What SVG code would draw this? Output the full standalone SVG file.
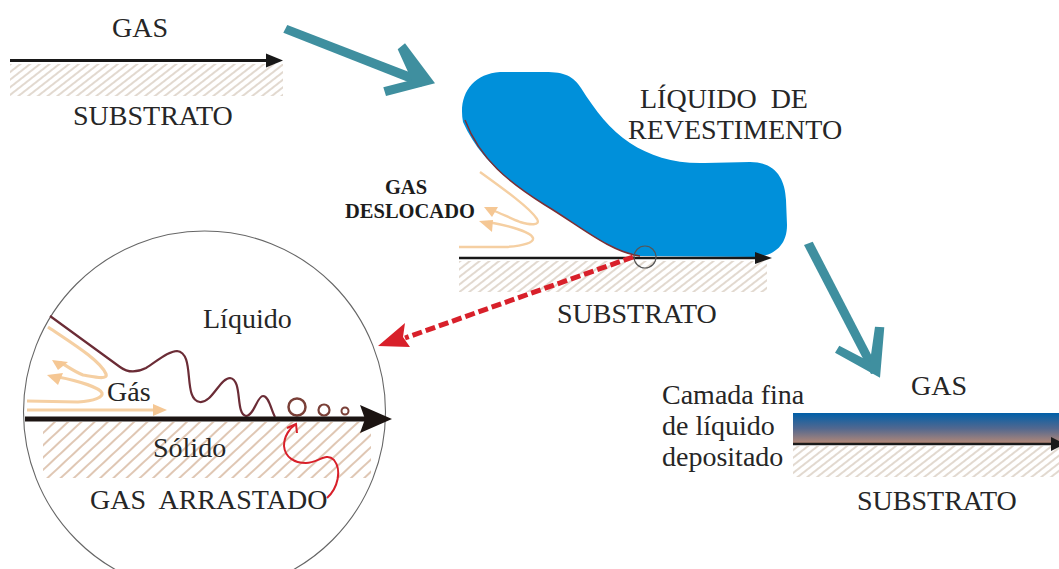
<svg xmlns="http://www.w3.org/2000/svg" width="1059" height="569" viewBox="0 0 1059 569">
<style>
text{font-family:"Liberation Serif","Times New Roman",serif;fill:#262626;white-space:pre}
.t{font-size:28px}
.b{font-size:20.500px;font-weight:bold;text-anchor:middle;fill:#1c1c1c}
.gas{fill:none;stroke:#f5cfa2;stroke-width:2.400}
.gasT{fill:none;stroke:#f5cfa2;stroke-width:3.200}
.tip{fill:#f5c794}
.teal{fill:#3f8f9f}
.wave{fill:none;stroke:#6b2c36;stroke-width:2.200}
.bub{fill:none;stroke:#7a4038}
</style>
<defs>
<pattern id="hatch" width="6" height="6" patternUnits="userSpaceOnUse" patternTransform="rotate(52)">
<rect width="6" height="6" fill="#fff"/>
<line x1="3" y1="0" x2="3" y2="6" stroke="#cfc0b0" stroke-width="1.200"/>
</pattern>
<pattern id="hatchBig" width="9" height="9" patternUnits="userSpaceOnUse" patternTransform="rotate(47)">
<rect width="9" height="9" fill="#fff"/>
<line x1="4" y1="0" x2="4" y2="9" stroke="#cfa98c" stroke-width="1.300"/>
</pattern>
<linearGradient id="film" x1="0" y1="0" x2="0" y2="1">
<stop offset="0" stop-color="#005fa8"/>
<stop offset="0.5" stop-color="#52688f"/>
<stop offset="1" stop-color="#b98a76"/>
</linearGradient>
</defs>
<rect width="1059" height="569" fill="#fff"/>

<g id="substrate-top">
<rect x="10" y="64" width="273" height="32" fill="url(#hatch)"/>
<line x1="10" y1="60.500" x2="270" y2="60.500" stroke="#181818" stroke-width="3"/>
<polygon points="266,53.500 283,60.500 266,67.500" fill="#181818"/>
<text class="t" x="112" y="37">GAS</text>
<text class="t" x="73" y="125">SUBSTRATO</text>
</g>

<g id="liquid-coating">
<rect x="459" y="261" width="308" height="31" fill="url(#hatch)"/>
<path d="M463 122C458 95 472 74 500 72L545 72C565 72 573 76 581 88C595 110 610 130 630 143C650 156 675 164 705 163L750 162C775 162 785 178 786 200L787 225C787 245 775 255 757 257L640 256C610 252 580 226 545 205C510 183 480 160 463 122Z" fill="#0090da"/>
<path d="M465 120C480 160 510 183 545 205C580 226 610 252 640 256" fill="none" stroke="#7b3035" stroke-width="1.500"/>
<line x1="459" y1="258" x2="760" y2="258" stroke="#181818" stroke-width="2.500"/>
<polygon points="755,252 772,258 755,264" fill="#181818"/>
<circle cx="645" cy="257" r="11" fill="none" stroke="#555" stroke-width="1.200"/>
<path class="gas" d="M480 172C505 190 530 208 537 219C541 226 530 225 520 222C510 218 500 213 492 210"/>
<path class="gas" d="M459 247L505 247C525 246 534 242 533 238C531 232 510 226 488 222"/>
<polygon class="tip" points="484,207 498,207 492,217"/>
<polygon class="tip" points="479,221 493,220 492,232"/>
<text class="t" x="640" y="108">LÍQUIDO  DE</text>
<text class="t" x="628" y="139">REVESTIMENTO</text>
<text class="b" x="406" y="194">GAS</text>
<text class="b" x="410" y="218">DESLOCADO</text>
<text class="t" x="557" y="323">SUBSTRATO</text>
</g>

<g id="detail-circle">
<circle cx="204.500" cy="412" r="181" fill="#fff" stroke="#666" stroke-width="1.100"/>
<rect x="43" y="422" width="328" height="56" fill="url(#hatchBig)"/>
<path class="wave" d="M50 316L120 367C128 373 136 373 146 368C156 362 168 351 177 351C196 353 182 400 200 402C212 403 220 378 230 378C243 380 235 414 246 416C254 416 257 396 263 396C269 396 271 410 275 417"/>
<circle class="bub" cx="297" cy="407" r="8.500" stroke-width="2.500"/>
<circle class="bub" cx="324" cy="410" r="5.500" stroke-width="2.200"/>
<circle class="bub" cx="345" cy="411" r="3.500" stroke-width="2"/>
<path class="gasT" d="M48 327C70 342 100 360 106 374C108 380 95 377 83 375C75 372 68 367 60 362"/>
<path class="gasT" d="M27 401L78 402C95 401 103 397 102 393C100 388 80 381 58 377"/>
<line class="gasT" x1="27" y1="410" x2="155" y2="410"/>
<polygon class="tip" points="52,360 68,362 58,370"/>
<polygon class="tip" points="47,375 63,373 58,385"/>
<polygon class="tip" points="167,410 153,404 153,416"/>
<line x1="25" y1="419" x2="365" y2="419" stroke="#1c1412" stroke-width="5"/>
<polygon points="360,405 392,419 360,433 365,419" fill="#1c1412"/>
<text class="t" x="203" y="328">Líquido</text>
<text class="t" x="107" y="401">Gás</text>
<text class="t" x="153" y="457">Sólido</text>
<text class="t" x="90" y="509">GAS  ARRASTADO</text>
<path d="M327 498C338 488 342 470 334 460C326 452 318 463 306 463C294 463 285 457 284 446C284 436 290 428 295 425" fill="none" stroke="#d8202a" stroke-width="2"/>
<path d="M287 428L296 424L297 433" fill="none" stroke="#d8202a" stroke-width="2"/>
</g>

<g id="thin-film">
<rect x="793" y="446" width="266" height="31" fill="url(#hatch)"/>
<rect x="793" y="413" width="266" height="31" fill="url(#film)"/>
<line x1="793" y1="444" x2="1059" y2="444" stroke="#1a1a1a" stroke-width="2.500"/>
<polygon points="1051,437 1065,444 1051,451" fill="#1a1a1a"/>
<text class="t" x="911" y="395">GAS</text>
<text class="t" x="857" y="510">SUBSTRATO</text>
<text class="t" x="662" y="404">Camada fina</text>
<text class="t" x="662" y="435">de líquido</text>
<text class="t" x="662" y="466">depositado</text>
</g>

<g id="connectors">
<polygon class="teal" points="283.300,32.700 287.300,25 426,78.500 421,87"/>
<polygon class="teal" points="405,43.300 435,83.300 386,96 383.300,87.300 411.700,80 397.700,49.300"/>
<polygon class="teal" points="804,245 812.700,241.700 880,372 871,374"/>
<polygon class="teal" points="875,326.700 884.300,327.300 880,377.700 835,352.700 839.300,345.700 870,361.700"/>
<line x1="633" y1="257" x2="405" y2="338" stroke="#d8202a" stroke-width="5" stroke-dasharray="10 4"/>
<polygon points="378,346 405,323 403,337 410,347" fill="#d8202a"/>
</g>
</svg>
